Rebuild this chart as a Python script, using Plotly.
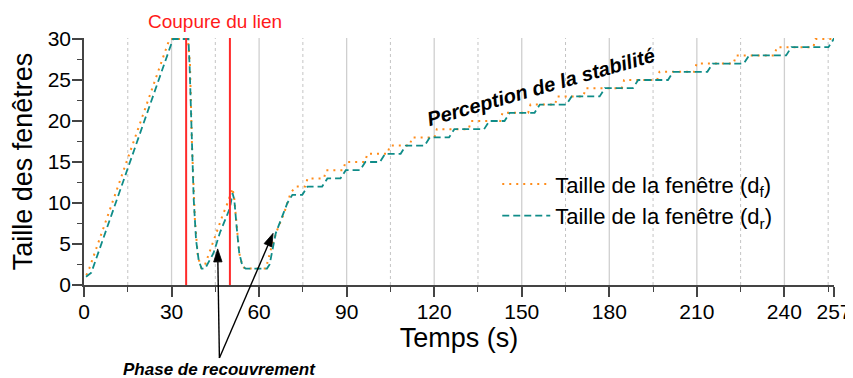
import plotly.graph_objects as go

# ---- data ----
time_df = [0.8, 1.8, 29.3, 35.6, 36.3, 37.0, 38.0, 39.0, 40.2, 41.2, 42.9, 45.2, 47.4, 49.2,
           50.9, 51.5, 52.3, 53.2, 54.3, 55.2, 62.3, 64.0, 66.2, 68.5, 70.8, 72.5,
           75.8, 76.6, 82.2, 83.0, 88.8, 89.6, 96.3, 97.1, 104.0, 104.8, 111.6, 112.4,
           120.1, 120.9, 131.8, 132.6, 142.6, 143.4, 152.2, 153.0, 161.4, 162.2,
           171.1, 171.9, 184.3, 185.1, 196.4, 197.2, 209.1, 209.9, 222.6, 223.4,
           236.6, 237.4, 249.9, 250.7, 257.0]
win_df = [1.2, 2.0, 30, 30, 27, 17, 8, 3.5, 2.1, 2.2, 3.9, 6.3, 8.4, 10,
          11.8, 10.5, 7.1, 3.9, 2.3, 2, 2, 4.3, 6.7, 8.7, 11.2, 12,
          12, 13, 13, 14, 14, 15, 15, 16, 16, 17, 17, 18,
          18, 19, 19, 20, 20, 21, 21, 22, 22, 23,
          23, 24, 24, 25, 25, 26, 26, 27, 27, 28,
          28, 29, 29, 30, 30]

time_dr = [0.7, 2.5, 30.5, 35.8, 36.2, 36.5, 37.0, 37.6, 38.4, 39.3, 40.3, 41.5, 44.4, 46.6,
           48.9, 50.0, 50.9, 51.5, 52.3, 53.2, 54.3, 55.4, 62.7, 63.6, 65.7, 69.7, 71.4,
           74.8, 76.6, 81.6, 83.4, 87.9, 89.7, 94.6, 96.4, 101.4, 103.2, 108.5, 110.3,
           116.7, 118.5, 125.1, 126.9, 137.1, 138.9, 144.1, 145.9, 154.4, 156.2,
           165.3, 167.1, 176.7, 178.5, 188.1, 189.9, 200.1, 201.9, 213.6, 215.4,
           226.1, 227.9, 240.6, 242.4, 255.1, 256.9, 257.0]
win_dr = [1.0, 1.5, 30, 30, 26.6, 22.7, 16.5, 10.4, 5.5, 3.0, 2.0, 2.0, 3.9, 6.4,
          8.4, 9.4, 11.2, 10.4, 7.1, 3.9, 2.3, 2.0, 2.0, 2.5, 6.3, 10, 11,
          11, 12, 12, 13, 13, 14, 14, 15, 15, 16, 16, 17,
          17, 18, 18, 19, 19, 20, 20, 21, 21, 22,
          22, 23, 23, 24, 24, 25, 25, 26, 26, 27,
          27, 28, 28, 29, 29, 30, 30]

x_ticks = [0, 30, 60, 90, 120, 150, 180, 210, 240, 257]
x_minor = [15, 45, 75, 105, 135, 165, 195, 225, 255]
grid_solid = [30, 60, 90, 120, 150, 180, 210, 240]
grid_dash = [15, 45, 75, 105, 135, 165, 195, 225, 255]
y_ticks = [0, 5, 10, 15, 20, 25, 30]
y_minor = [2.5, 7.5, 12.5, 17.5, 22.5, 27.5]
cut_times = [35, 50]

# annotation anchor points (data units): arrow tail and the two arrow heads
arrow_tail = (46.4, -8.9)
arrow_heads = [(45.8, 4.4), (64.8, 6.3)]

FONT = "Liberation Sans, Arial, sans-serif"
ORANGE = "#ff8c1a"
TEAL = "#0f8c88"
AXC = "#444444"

# the page body has an 8px margin, so the figure is 8px smaller than the window
W, H = 845, 370
ML, MR, MT, MB = 76, 19, 30, 93
X_RANGE = [0, 257]
Y_RANGE = [0, 30.12]
PW, PH = W - ML - MR, H - MT - MB


def to_paper(pt):
    x, y = pt
    return ((x - X_RANGE[0]) / (X_RANGE[1] - X_RANGE[0]),
            (y - Y_RANGE[0]) / (Y_RANGE[1] - Y_RANGE[0]))


def arrow_shapes(tail, head, head_len=13.0, half_w=4.2):
    tx, ty = to_paper(tail)
    hx, hy = to_paper(head)
    dx, dy = (hx - tx) * PW, (hy - ty) * PH
    L = (dx * dx + dy * dy) ** 0.5
    ux, uy = dx / L, dy / L
    bx, by = hx * PW - ux * head_len, hy * PH - uy * head_len
    px_, py_ = -uy, ux
    c1 = ((bx + px_ * half_w) / PW, (by + py_ * half_w) / PH)
    c2 = ((bx - px_ * half_w) / PW, (by - py_ * half_w) / PH)
    line = dict(type="line", xref="paper", yref="paper", x0=tx, y0=ty,
                x1=bx / PW, y1=by / PH, line=dict(color="black", width=1.4))
    tri = dict(type="path", xref="paper", yref="paper",
               path=f"M{hx},{hy} L{c1[0]},{c1[1]} L{c2[0]},{c2[1]} Z",
               fillcolor="black", line=dict(color="black", width=0.8))
    return [line, tri]


fig = go.Figure()
fig.add_trace(go.Scatter(x=time_df, y=win_df, mode="lines",
                         name="Taille de la fenêtre (d<sub>f</sub>)",
                         line=dict(color=ORANGE, width=2, dash="2px,5px")))
fig.add_trace(go.Scatter(x=time_dr, y=win_dr, mode="lines",
                         name="Taille de la fenêtre (d<sub>r</sub>)",
                         line=dict(color=TEAL, width=1.8, dash="7px,4px")))

shapes = []
for g in grid_solid:
    shapes.append(dict(type="line", xref="x", yref="y", x0=g, x1=g, y0=0, y1=Y_RANGE[1],
                       line=dict(color="#cfcfcf", width=1.3), layer="below"))
for g in grid_dash:
    shapes.append(dict(type="line", xref="x", yref="y", x0=g, x1=g, y0=0, y1=Y_RANGE[1],
                       line=dict(color="#c4c4c4", width=1, dash="3px,3px"), layer="below"))
for c in cut_times:
    shapes.append(dict(type="line", xref="x", yref="y", x0=c, x1=c, y0=0, y1=Y_RANGE[1],
                       line=dict(color="#ff2a2a", width=2), layer="above"))
for h in arrow_heads:
    shapes += arrow_shapes(arrow_tail, h)

tail_p = to_paper(arrow_tail)
annotations = [
    dict(text="Coupure du lien", x=45, y=1.0, xref="x", yref="paper", yanchor="bottom",
         xanchor="center", yshift=4, showarrow=False,
         font=dict(family=FONT, size=19, color="#ff1a1a")),
    dict(text="<b><i>Perception de la stabilité</i></b>", x=156.5, y=24.2, xref="x", yref="y",
         xanchor="center", yanchor="middle",
         textangle=-16, showarrow=False, font=dict(family=FONT, size=20, color="black")),
    dict(text="<b><i>Phase de recouvrement</i></b>", x=tail_p[0], y=tail_p[1],
         xref="paper", yref="paper", xanchor="center", yanchor="top", yshift=-0.5,
         showarrow=False, font=dict(family=FONT, size=17, color="black")),
]

fig.update_layout(
    width=W, height=H,
    margin=dict(l=ML, r=MR, t=MT, b=MB, autoexpand=False),
    paper_bgcolor="white", plot_bgcolor="white",
    font=dict(family=FONT, color="black"),
    shapes=shapes, annotations=annotations,
    legend=dict(x=0.551, y=0.493, xanchor="left", yanchor="top",
                bgcolor="rgba(0,0,0,0)", font=dict(family=FONT, size=22),
                itemwidth=48, tracegroupgap=0),
    showlegend=True,
)
fig.update_xaxes(range=X_RANGE, tickvals=x_ticks, ticktext=[str(v) for v in x_ticks],
                 automargin=False, ticklabeloverflow="allow", ticklabelstandoff=-3,
                 showgrid=False, zeroline=False, showline=True, linecolor=AXC, linewidth=1.5,
                 ticks="outside", ticklen=10, tickwidth=1.5, tickcolor=AXC,
                 tickfont=dict(family=FONT, size=21, color="black"),
                 minor=dict(tickvals=x_minor, ticks="outside", ticklen=5, tickwidth=1.2,
                            tickcolor=AXC, showgrid=False),
                 title=dict(text="Temps (s)", font=dict(family=FONT, size=27), standoff=0))
fig.update_yaxes(range=Y_RANGE, tickvals=y_ticks, automargin=False, ticklabelstandoff=-3,
                 showgrid=False, zeroline=False, showline=True, linecolor=AXC, linewidth=1.5,
                 ticks="outside", ticklen=10, tickwidth=1.5, tickcolor=AXC,
                 tickfont=dict(family=FONT, size=21, color="black"),
                 minor=dict(tickvals=y_minor, ticks="outside", ticklen=5, tickwidth=1.2,
                            tickcolor=AXC, showgrid=False),
                 title=dict(text="Taille des fenêtres", font=dict(family=FONT, size=27), standoff=10))

fig.write_html("out.html")
